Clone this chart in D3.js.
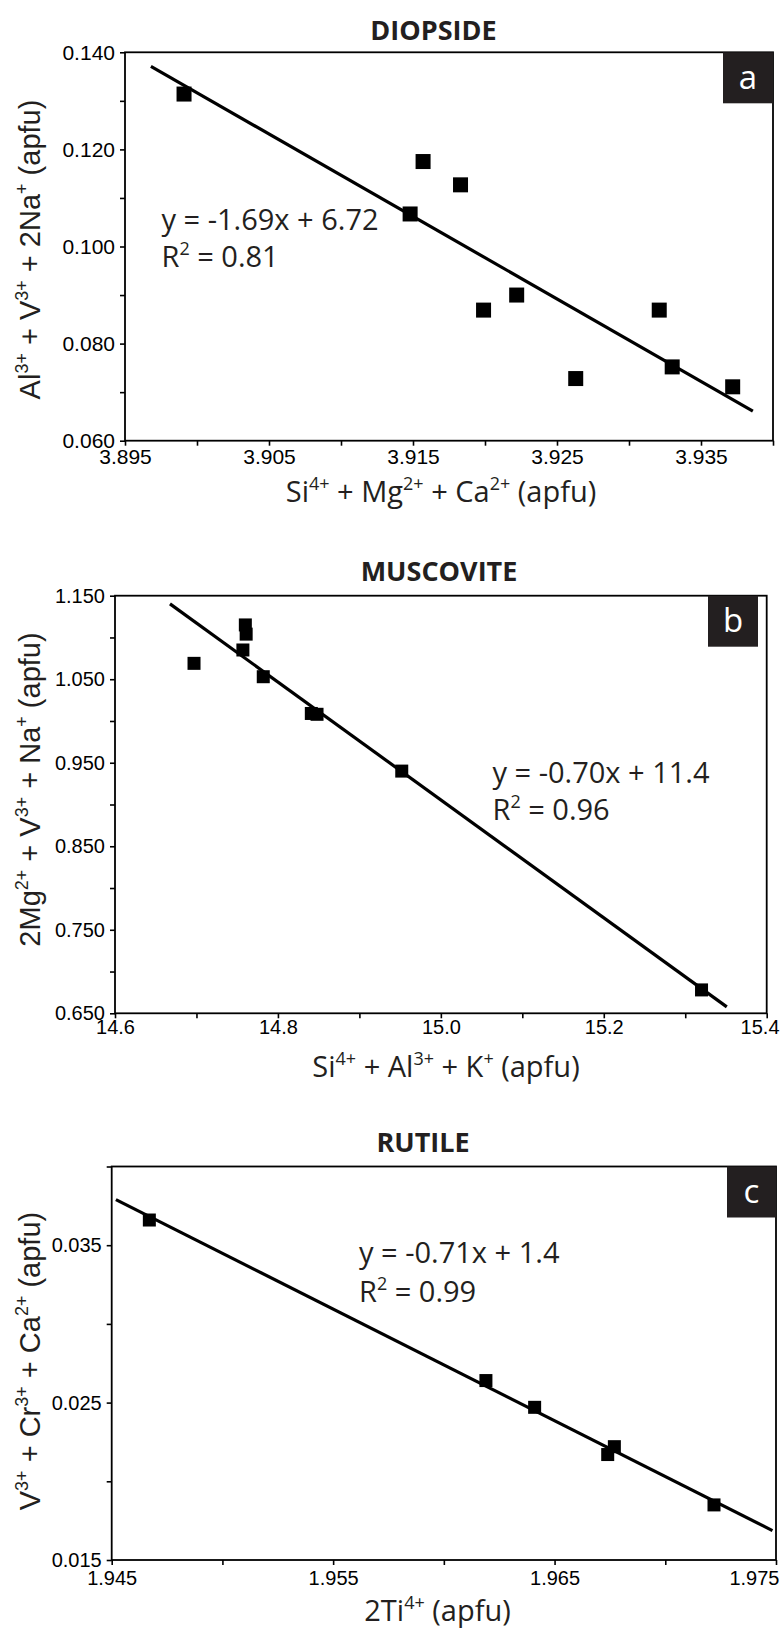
<!DOCTYPE html>
<html><head><meta charset="utf-8">
<script src="https://cdn.jsdelivr.net/npm/d3@7"></script>
<style>
body{margin:0;background:#fff}
svg{display:block}
text{white-space:pre}
</style>
</head><body>
<svg id="fig" width="782" height="1632"></svg>
<script>
// ---------- Panel a: DIOPSIDE ----------
const diopsideX = [3.8991, 3.9157, 3.9183, 3.9148, 3.9199, 3.9222, 3.9263, 3.9321, 3.9330, 3.9372];
const diopsideY = [0.1314, 0.1175, 0.1127, 0.1067, 0.0869, 0.0900, 0.0728, 0.0869, 0.0752, 0.0711];
const diopsideFitX = [3.8968, 3.9386];
const diopsideFitY = [0.1371, 0.0661];
const diopsideXTicks = [3.895, 3.900, 3.905, 3.910, 3.915, 3.920, 3.925, 3.930, 3.935, 3.940];
const diopsideXLabels = ["3.895", "3.905", "3.915", "3.925", "3.935"];
const diopsideYTicks = [0.060, 0.070, 0.080, 0.090, 0.100, 0.110, 0.120, 0.130, 0.140];
const diopsideYLabels = ["0.060", "0.080", "0.100", "0.120", "0.140"];

// ---------- Panel b: MUSCOVITE ----------
const muscoviteX = [14.697, 14.760, 14.761, 14.757, 14.782, 14.841, 14.848, 14.952, 15.320];
const muscoviteY = [1.069, 1.115, 1.104, 1.085, 1.053, 1.009, 1.008, 0.940, 0.678];
const muscoviteFitX = [14.6675, 15.351];
const muscoviteFitY = [1.1402, 0.6577];
const muscoviteXTicks = [14.6, 14.7, 14.8, 14.9, 15.0, 15.1, 15.2, 15.3, 15.4];
const muscoviteXLabels = ["14.6", "14.8", "15.0", "15.2", "15.4"];
const muscoviteYTicks = [0.650, 0.700, 0.750, 0.800, 0.850, 0.900, 0.950, 1.000, 1.050, 1.100, 1.150];
const muscoviteYLabels = ["0.650", "0.750", "0.850", "0.950", "1.050", "1.150"];

// ---------- Panel c: RUTILE ----------
const rutileX = [1.9467, 1.9619, 1.9641, 1.9677, 1.9674, 1.9722];
const rutileY = [0.0366, 0.0264, 0.0247, 0.0222, 0.0217, 0.0185];
const rutileFitX = [1.94519, 1.97484];
const rutileFitY = [0.0379, 0.01687];
const rutileXTicks = [1.945, 1.950, 1.955, 1.960, 1.965, 1.970, 1.975];
const rutileXLabels = ["1.945", "1.955", "1.965", "1.975"];
const rutileYTicks = [0.015, 0.020, 0.025, 0.030, 0.035, 0.040];
const rutileYLabels = ["0.015", "0.025", "0.035"];

const INK = "#231f20";
const W = 782;
const svg = d3.select("#fig");

function rich(textSel, parts, fs) {
  let raised = false;
  parts.forEach(p => {
    const sup = Array.isArray(p);
    const t = textSel.append("tspan").text(sup ? p[0] : p);
    if (sup) {
      t.attr("font-size", fs * 0.62);
      if (!raised) { t.attr("dy", -fs * 0.42); raised = true; }
    } else if (raised) {
      t.attr("dy", fs * 0.42); raised = false;
    }
  });
}

function labelFor(labels) {
  return d => {
    const hit = labels.find(l => Math.abs(+l - d) < 1e-9);
    return hit === undefined ? "" : hit;
  };
}

function panel(c) {
  const g = svg.append("g");
  const x = d3.scaleLinear().domain(c.xDomain).range([c.left, c.right]);
  const y = d3.scaleLinear().domain(c.yDomain).range([c.bottom, c.top]);

  // x axis
  const xa = g.append("g").attr("transform", `translate(0,${c.bottom})`)
    .call(d3.axisBottom(x).tickValues(c.xTicks).tickSizeInner(5).tickSizeOuter(0)
      .tickPadding(c.xPad).tickFormat(labelFor(c.xLabels)));
  // y axis
  const ya = g.append("g").attr("transform", `translate(${c.left},0)`)
    .call(d3.axisLeft(y).tickValues(c.yTicks).tickSizeInner(5).tickSizeOuter(0)
      .tickPadding(5).tickFormat(labelFor(c.yLabels)));
  [xa, ya].forEach(a => {
    a.select(".domain").remove();
    a.selectAll("line").attr("stroke", "#000").attr("stroke-width", 1.6);
    a.selectAll("text").attr("font-family", "'Liberation Sans', Arial, sans-serif")
      .attr("font-size", c.tickFs).attr("fill", "#000");
  });
  // keep edge tick labels inside the page
  xa.selectAll(".tick text").each(function (d) {
    const w = this.getComputedTextLength();
    const right = x(d) + w / 2;
    if (right > W - 3) d3.select(this).attr("x", (W - 3) - right);
  });

  // frame
  g.append("rect").attr("x", c.left).attr("y", c.top)
    .attr("width", c.right - c.left).attr("height", c.bottom - c.top)
    .attr("fill", "none").attr("stroke", "#000").attr("stroke-width", 1.8);

  // panel letter box
  g.append("rect").attr("x", c.box[0]).attr("y", c.box[1])
    .attr("width", c.box[2]).attr("height", c.box[3]).attr("fill", INK);
  g.append("text").attr("x", c.box[0] + c.box[2] / 2).attr("y", c.box[1] + c.box[3] / 2 + 11)
    .attr("text-anchor", "middle").attr("font-family", "'Open Sans', sans-serif")
    .attr("font-size", 33).attr("fill", "#fff").text(c.letter);

  // regression line
  g.append("line")
    .attr("x1", x(c.fitX[0])).attr("y1", y(c.fitY[0]))
    .attr("x2", x(c.fitX[1])).attr("y2", y(c.fitY[1]))
    .attr("stroke", "#000").attr("stroke-width", 3.2);

  // points
  const pts = c.xs.map((v, i) => [v, c.ys[i]]);
  g.selectAll("rect.pt").data(pts).enter().append("rect").attr("class", "pt")
    .attr("x", d => x(d[0]) - c.ms / 2).attr("y", d => y(d[1]) - c.ms / 2)
    .attr("width", c.ms).attr("height", c.ms).attr("fill", "#000");

  // title
  g.append("text").attr("x", c.title[1]).attr("y", c.title[2]).attr("text-anchor", "middle")
    .attr("font-family", "'Open Sans', sans-serif").attr("font-weight", "bold")
    .attr("font-size", 27).attr("fill", INK).text(c.title[0]);

  // x title
  const xt = g.append("text").attr("x", c.xTitlePos[0]).attr("y", c.xTitlePos[1])
    .attr("text-anchor", "middle").attr("font-family", "'Open Sans', sans-serif")
    .attr("font-size", 29).attr("fill", INK);
  rich(xt, c.xTitle, 29);

  // y title
  const yt = g.append("text")
    .attr("transform", `translate(${c.yTitlePos[0]},${c.yTitlePos[1]}) rotate(-90)`)
    .attr("text-anchor", "middle").attr("font-family", "'Liberation Sans', Arial, sans-serif")
    .attr("font-size", c.yTitleFs).attr("fill", INK);
  rich(yt, c.yTitle, c.yTitleFs);

  // equation
  g.append("text").attr("x", c.eq[0]).attr("y", c.eq[1])
    .attr("font-family", "'Open Sans', sans-serif").attr("font-size", 29).attr("fill", INK)
    .text(c.eqText);
  const e2 = g.append("text").attr("x", c.eq[0]).attr("y", c.eq[2])
    .attr("font-family", "'Open Sans', sans-serif").attr("font-size", 29).attr("fill", INK);
  rich(e2, ["R", ["2"], " = " + c.r2], 29);
}

panel({
  left: 125, right: 773, top: 52.3, bottom: 440.7,
  xDomain: [3.895, 3.940], yDomain: [0.060, 0.140],
  xTicks: diopsideXTicks, xLabels: diopsideXLabels, yTicks: diopsideYTicks, yLabels: diopsideYLabels,
  xPad: 3, tickFs: 21,
  xs: diopsideX, ys: diopsideY, fitX: diopsideFitX, fitY: diopsideFitY, ms: 15,
  box: [723, 52.3, 50, 51], letter: "a",
  title: ["DIOPSIDE", 433.5, 40],
  xTitle: ["Si", ["4+"], " + Mg", ["2+"], " + Ca", ["2+"], " (apfu)"], xTitlePos: [441, 502],
  yTitle: ["Al", ["3+"], " + V", ["3+"], " + 2Na", ["+"], " (apfu)"], yTitlePos: [40, 249.5], yTitleFs: 29,
  eq: [161.5, 230, 267], eqText: "y = -1.69x + 6.72", r2: "0.81"
});

panel({
  left: 115, right: 766.7, top: 595.7, bottom: 1013.3,
  xDomain: [14.6, 15.4], yDomain: [0.650, 1.150],
  xTicks: muscoviteXTicks, xLabels: muscoviteXLabels, yTicks: muscoviteYTicks, yLabels: muscoviteYLabels,
  xPad: 1.5, tickFs: 20,
  xs: muscoviteX, ys: muscoviteY, fitX: muscoviteFitX, fitY: muscoviteFitY, ms: 13,
  box: [708, 595.7, 50, 51], letter: "b",
  title: ["MUSCOVITE", 439, 581],
  xTitle: ["Si", ["4+"], " + Al", ["3+"], " + K", ["+"], " (apfu)"], xTitlePos: [446, 1077],
  yTitle: ["2Mg", ["2+"], " + V", ["3+"], " + Na", ["+"], " (apfu)"], yTitlePos: [40, 789.5], yTitleFs: 29,
  eq: [492.5, 782.5, 820], eqText: "y = -0.70x + 11.4", r2: "0.96"
});

panel({
  left: 111.7, right: 776, top: 1166.5, bottom: 1560,
  xDomain: [1.945, 1.975], yDomain: [0.015, 0.040],
  xTicks: rutileXTicks, xLabels: rutileXLabels, yTicks: rutileYTicks, yLabels: rutileYLabels,
  xPad: 5.5, tickFs: 20,
  xs: rutileX, ys: rutileY, fitX: rutileFitX, fitY: rutileFitY, ms: 13,
  box: [727, 1166.5, 49, 51], letter: "c",
  title: ["RUTILE", 423, 1152],
  xTitle: ["2Ti", ["4+"], " (apfu)"], xTitlePos: [437.5, 1621],
  yTitle: ["V", ["3+"], " + Cr", ["3+"], " + Ca", ["2+"], " (apfu)"], yTitlePos: [40, 1361], yTitleFs: 29,
  eq: [359, 1263, 1302], eqText: "y = -0.71x + 1.4", r2: "0.99"
});
</script>
</body></html>
